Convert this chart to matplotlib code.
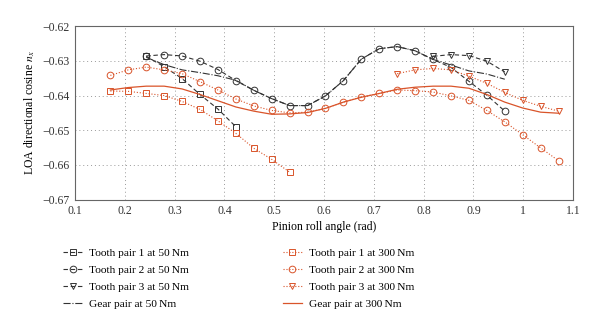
import numpy as np
import matplotlib
matplotlib.use("Agg")
import matplotlib.pyplot as plt

plt.rcParams['font.family'] = ['Liberation Serif', 'DejaVu Serif']
plt.rcParams['mathtext.fontset'] = 'stix'
plt.rcParams['font.size'] = 8.5

# roll angle grid (rad)
x_all = [0.171, 0.207, 0.243, 0.279, 0.315, 0.351, 0.387, 0.423, 0.459, 0.495,
         0.531, 0.567, 0.603, 0.639, 0.675, 0.711, 0.747, 0.783, 0.819, 0.855,
         0.891, 0.927, 0.963, 0.999, 1.035, 1.071]

# 50 Nm
tp1_50_x = x_all[2:8]
tp1_50 = [-0.6287, -0.6317, -0.6351, -0.6397, -0.6439, -0.6490]
tp2_50_x = x_all[2:23]
tp2_50 = [-0.6286, -0.6282, -0.6286, -0.6301, -0.6325, -0.6357, -0.6385, -0.6409,
          -0.6429, -0.6429, -0.6401, -0.6357, -0.6295, -0.6265, -0.6259, -0.6271,
          -0.6296, -0.6319, -0.6359, -0.6399, -0.6445]
tp3_50_x = x_all[18:23]
tp3_50 = [-0.6287, -0.6282, -0.6285, -0.6301, -0.6332]
gear_50_x = x_all[2:23]
gear_50 = [-0.6290, -0.6311, -0.6326, -0.6334, -0.6343, -0.6356, -0.6385, -0.6409,
           -0.6429, -0.6429, -0.6401, -0.6357, -0.6295, -0.6265, -0.6259, -0.6271,
           -0.6296, -0.6312, -0.6329, -0.6338, -0.6353]

# 300 Nm
tp1_300_x = x_all[0:11]
tp1_300 = [-0.6387, -0.6388, -0.6394, -0.6400, -0.6417, -0.6440, -0.6473, -0.6509,
           -0.6552, -0.6584, -0.6621]
tp2_300_x = x_all
tp2_300 = [-0.6342, -0.6326, -0.6318, -0.6326, -0.6337, -0.6360, -0.6384, -0.6410,
           -0.6430, -0.6443, -0.6450, -0.6448, -0.6437, -0.6419, -0.6404, -0.6394,
           -0.6384, -0.6386, -0.6390, -0.6401, -0.6414, -0.6443, -0.6476, -0.6513,
           -0.6551, -0.6588]
tp3_300_x = x_all[16:]
tp3_300 = [-0.6337, -0.6326, -0.6322, -0.6326, -0.6344, -0.6365, -0.6391, -0.6414,
           -0.6431, -0.6445]
gear_300_x = x_all
gear_300 = [-0.6384, -0.6377, -0.6373, -0.6373, -0.6381, -0.6397, -0.6415, -0.6433,
            -0.6445, -0.6454, -0.6453, -0.6449, -0.6437, -0.6419, -0.6405, -0.6394,
            -0.6382, -0.6376, -0.6373, -0.6373, -0.6379, -0.6397, -0.6419, -0.6436,
            -0.6448, -0.6451]

blk = '#333333'
org = '#D9542A'

fig = plt.figure(figsize=(6.0, 3.31), dpi=100)
ax = fig.add_axes([0.125, 0.397, 0.830, 0.524])

mk = dict(markersize=4.8, markerfacecolor='none', markeredgewidth=0.7, linewidth=0.8)
ax.plot(tp1_50_x, tp1_50, '--', marker='s', color=blk, dashes=(4, 2.5), label='Tooth pair 1 at 50\u2009Nm', **mk)
ax.plot(tp2_50_x, tp2_50, '--', marker='o', color=blk, dashes=(4, 2.5), label='Tooth pair 2 at 50\u2009Nm', **mk)
ax.plot(tp3_50_x, tp3_50, '--', marker='v', color=blk, dashes=(4, 2.5), label='Tooth pair 3 at 50\u2009Nm', **mk)
ax.plot(gear_50_x, gear_50, '-.', color=blk, linewidth=0.8, label='Gear pair at 50\u2009Nm')
ax.plot(tp1_300_x, tp1_300, ':', marker='s', color=org, label='Tooth pair 1 at 300\u2009Nm', **mk)
ax.plot(tp2_300_x, tp2_300, ':', marker='o', color=org, label='Tooth pair 2 at 300\u2009Nm', **mk)
ax.plot(tp3_300_x, tp3_300, ':', marker='v', color=org, label='Tooth pair 3 at 300\u2009Nm', **mk)
ax.plot(gear_300_x, gear_300, '-', color=org, linewidth=0.9, label='Gear pair at 300\u2009Nm')

ax.set_xlim(0.1, 1.1)
ax.set_ylim(-0.67, -0.62)
ax.set_xticks(np.arange(0.1, 1.11, 0.1))
ax.set_xticklabels(['0.1', '0.2', '0.3', '0.4', '0.5', '0.6', '0.7', '0.8', '0.9', '1', '1.1'])
ax.set_yticks(np.arange(-0.67, -0.619, 0.01))
ax.set_yticklabels(['\u22120.67', '\u22120.66', '\u22120.65', '\u22120.64', '\u22120.63', '\u22120.62'])
ax.tick_params(length=0, pad=4, colors='#333333')
ax.grid(True, linestyle=(0, (1, 3)), color='#999999', linewidth=0.7)
for s in ax.spines.values():
    s.set_color('#666666')
    s.set_linewidth(0.8)
ax.set_xlabel('Pinion roll angle (rad)', labelpad=3)
ax.set_ylabel('LOA directional cosine $n_x$', labelpad=4)

h, l = ax.get_legend_handles_labels()
fig.legend(h, l, loc='upper left', bbox_to_anchor=(0.088, 0.281), ncol=2,
           frameon=False, columnspacing=8.2, handlelength=1.7, handletextpad=0.6,
           labelspacing=0.6, fontsize=8.2)

fig.savefig('out.png', dpi=100)
